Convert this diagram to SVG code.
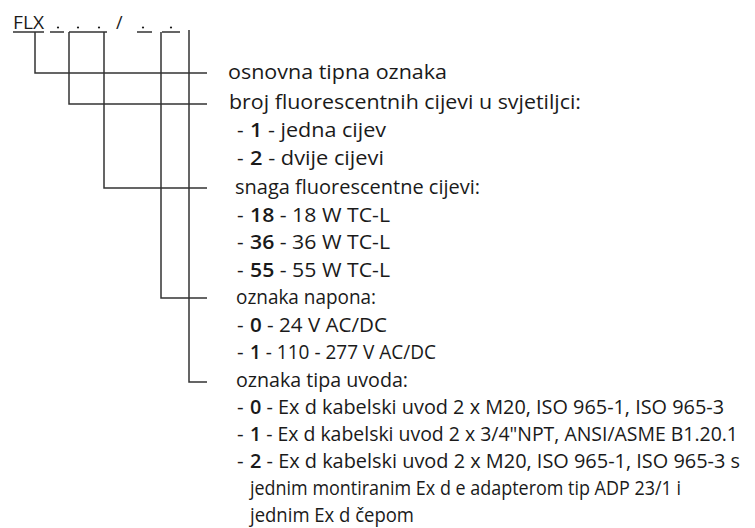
<svg xmlns="http://www.w3.org/2000/svg" width="755" height="528" viewBox="0 0 755 528">
<style>
  text { font-family: "Open Sans", "Liberation Sans", sans-serif; font-size: 20.5px; fill: #1a1a1a; }
  .b { font-weight: 600; }
  .hdr { font-size: 18px; }
  .ln { stroke: #333; stroke-width: 1.5; fill: none; }
  .ul { stroke: #333; stroke-width: 1.3; fill: none; }
  .dot { fill: #1a1a1a; }
</style>
<rect width="755" height="528" fill="#fff"/>
<g id="header">
  <text class="hdr" x="13" y="29" textLength="31" lengthAdjust="spacingAndGlyphs">FLX</text>
  <text class="hdr" x="116" y="29">/</text>
  <circle class="dot" cx="58" cy="27.5" r="1.1"/>
  <circle class="dot" cx="78" cy="27.5" r="1.1"/>
  <circle class="dot" cx="99" cy="27.5" r="1.1"/>
  <circle class="dot" cx="143" cy="27.5" r="1.1"/>
  <circle class="dot" cx="171" cy="27.5" r="1.1"/>
  <path class="ul" d="M13 32H44 M50 32H64 M69 32H107 M137 32H152 M162 32H180"/>
</g>
<g id="connectors">
  <path class="ln" d="M35 32V73H207"/>
  <path class="ln" d="M69 32V104H207"/>
  <path class="ln" d="M104 32V188H207"/>
  <path class="ln" d="M161 32V298H207"/>
  <path class="ln" d="M189 30V382H207"/>
</g>
<g id="n-osnovna"><text x="228" y="79" textLength="219" lengthAdjust="spacingAndGlyphs">osnovna tipna oznaka</text></g>
<g id="n-broj">
  <text x="229" y="109" textLength="352" lengthAdjust="spacingAndGlyphs">broj fluorescentnih cijevi u svjetiljci:</text>
  <text x="237" y="137">-</text><text x="250" y="137" textLength="136" lengthAdjust="spacingAndGlyphs"><tspan class="b">1</tspan> - jedna cijev</text>
  <text x="237" y="165">-</text><text x="250" y="165" textLength="134" lengthAdjust="spacingAndGlyphs"><tspan class="b">2</tspan> - dvije cijevi</text>
</g>
<g id="n-snaga">
  <text x="235" y="194" textLength="245" lengthAdjust="spacingAndGlyphs">snaga fluorescentne cijevi:</text>
  <text x="237" y="221.5">-</text><text x="250" y="221.5" textLength="140" lengthAdjust="spacingAndGlyphs"><tspan class="b">18</tspan> - 18 W TC-L</text>
  <text x="237" y="249">-</text><text x="250" y="249" textLength="140" lengthAdjust="spacingAndGlyphs"><tspan class="b">36</tspan> - 36 W TC-L</text>
  <text x="237" y="276.5">-</text><text x="250" y="276.5" textLength="140" lengthAdjust="spacingAndGlyphs"><tspan class="b">55</tspan> - 55 W TC-L</text>
</g>
<g id="n-napon">
  <text x="236" y="304" textLength="140" lengthAdjust="spacingAndGlyphs">oznaka napona:</text>
  <text x="237" y="331.5">-</text><text x="250" y="331.5" textLength="137" lengthAdjust="spacingAndGlyphs"><tspan class="b">0</tspan> - 24 V AC/DC</text>
  <text x="237" y="359">-</text><text x="250" y="359" textLength="186" lengthAdjust="spacingAndGlyphs"><tspan class="b">1</tspan> - 110 - 277 V AC/DC</text>
</g>
<g id="n-uvod">
  <text x="236" y="387" textLength="172" lengthAdjust="spacingAndGlyphs">oznaka tipa uvoda:</text>
  <text x="237" y="414">-</text><text x="250" y="414" textLength="474" lengthAdjust="spacingAndGlyphs"><tspan class="b">0</tspan> - Ex d kabelski uvod 2 x M20, ISO 965-1, ISO 965-3</text>
  <text x="237" y="441">-</text><text x="250" y="441" textLength="488" lengthAdjust="spacingAndGlyphs"><tspan class="b">1</tspan> - Ex d kabelski uvod 2 x 3/4"NPT, ANSI/ASME B1.20.1</text>
  <text x="237" y="468">-</text><text x="250" y="468" textLength="490" lengthAdjust="spacingAndGlyphs"><tspan class="b">2</tspan> - Ex d kabelski uvod 2 x M20, ISO 965-1, ISO 965-3 s</text>
  <text x="250" y="495" textLength="431" lengthAdjust="spacingAndGlyphs">jednim montiranim Ex d e adapterom tip ADP 23/1 i</text>
  <text x="250" y="522" textLength="164" lengthAdjust="spacingAndGlyphs">jednim Ex d čepom</text>
</g>
</svg>
